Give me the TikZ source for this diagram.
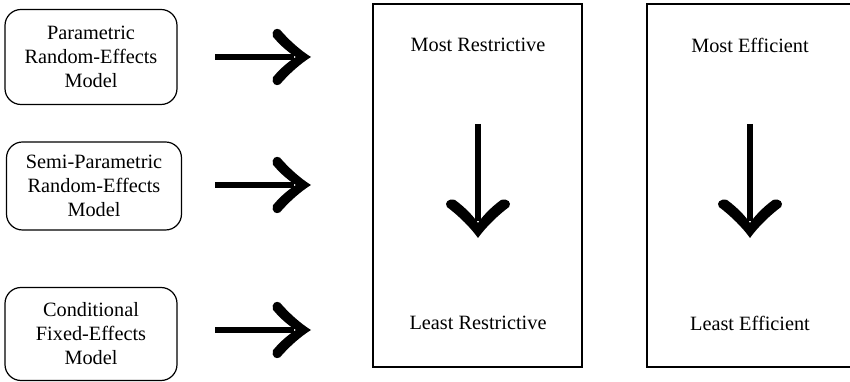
\documentclass[tikz,border=0pt]{standalone}
\usepackage{fontspec}
\setmainfont{Liberation Serif}
\begin{document}
\begin{tikzpicture}[x=1pt,y=1pt,
  every node/.style={font=\fontsize{20.3}{24}\selectfont, inner sep=0pt},
  model/.style={draw, line width=1.2pt, rounded corners=16pt, align=center,
                minimum width=172pt},
  panel/.style={draw, line width=1.5pt, fill=none},
  shaft/.style={line width=5.5pt},
  chev/.pic={
    \fill (0,0) .. controls (-10,7) and (-22,19) .. (-31,31)
      .. controls (-35,34) and (-40,30) .. (-38,23)
      .. controls (-30,12) and (-21,4) .. (-15,0)
      .. controls (-21,-4) and (-30,-12) .. (-38,-23)
      .. controls (-40,-30) and (-35,-34) .. (-31,-31)
      .. controls (-22,-19) and (-10,-7) .. (0,0) -- cycle;
  }]
\useasboundingbox (0,0) rectangle (850,382);

% model boxes on the left
\node[model, minimum height=95pt] (m1) at (91,325) {Parametric\\Random-Effects\\Model};
\node[model, minimum height=88pt, minimum width=175pt] (m2) at (94,196) {Semi-Parametric\\Random-Effects\\Model};
\node[model, minimum height=93pt] (m3) at (91,48) {Conditional\\Fixed-Effects\\Model};

% the two ranking panels
\node[panel, minimum width=209pt, minimum height=363pt] (p1) at (477.5,196.5) {};
\node[panel, minimum width=209pt, minimum height=363pt] (p2) at (751.5,196.5) {};

\node (mr) at (478,337) {Most Restrictive};
\node (lr) at (478,59) {Least Restrictive};
\node (me) at (750,337) {Most Efficient};
\node (le) at (750,59) {Least Efficient};

% arrows from the models to the panels
\foreach \i/\y in {1/325, 2/197, 3/52} {
  \coordinate (h\i s) at (215,\y);
  \coordinate (h\i t) at (311,\y);
  \draw[shaft] (h\i s) -- ([xshift=-17pt]h\i t);
  \pic[yscale=0.88] at (h\i t) {chev};
}

% downward arrows inside the panels
\foreach \i/\x in {1/478, 2/750} {
  \coordinate (d\i s) at (\x,258);
  \coordinate (d\i t) at (\x,144);
  \draw[line width=6pt] (d\i s) -- ([yshift=17pt]d\i t);
  \pic[rotate=-90] at (d\i t) {chev};
}
\end{tikzpicture}
\end{document}
